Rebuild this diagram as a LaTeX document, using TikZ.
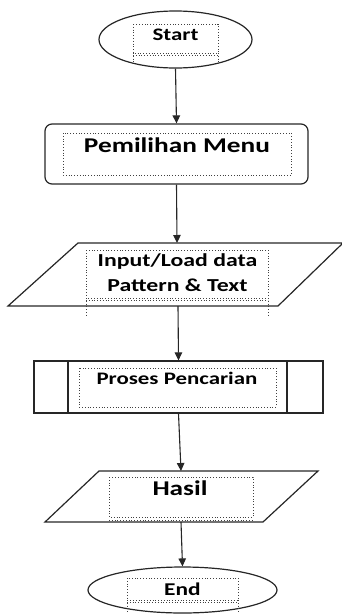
\documentclass[tikz,border=0pt]{standalone}
\usepackage{fontspec}
\setmainfont{Carlito}
\usetikzlibrary{shapes.geometric,arrows.meta}
\begin{document}
\begin{tikzpicture}[x=1pt,y=-1pt,
  shape line/.style={draw=black!85, line width=1.2pt},
  dotbox/.style={draw=black!75, dotted, line width=0.8pt},
  flow/.style={draw=black!85, line width=1.1pt, -{Triangle[length=8pt,width=7.5pt]}},
  lbl/.style={anchor=base, inner sep=0pt, text=black}]
\useasboundingbox (0,0) rectangle (341,614);
\newcommand{\Lbl}[2]{\scalebox{1.3}[1]{\fontsize{#1}{#1}\selectfont\bfseries #2}}

% Start
\node[shape line, ellipse, minimum width=153pt, minimum height=57pt, inner sep=0pt] (start) at (175.5,39.5) {};
\draw[dotbox] (133,24) rectangle (218,53);
\draw[dotbox] (133,55) -- (218,55) (133,53) -- (133,63) (218,53) -- (218,63);
\node[lbl] (startt) at (175.5,40.7) {\Lbl{17.6}{Start}};

% Menu
\node[shape line, rectangle, rounded corners=7pt, minimum width=263pt, minimum height=60pt, inner sep=0pt] (menu) at (176.5,154) {};
\draw[dotbox] (63,133) rectangle (291,175);
\node[lbl] (menut) at (177,152.3) {\Lbl{21}{Pemilihan Menu}};

% Input parallelogram
\coordinate (inTL) at (78,243);
\coordinate (inTR) at (343,243);
\coordinate (inBR) at (278,306);
\coordinate (inBL) at (8,306);
\draw[shape line] (inTL) -- (inTR) -- (inBR) -- (inBL) -- cycle;
\coordinate (inTop) at (177,243);
\coordinate (inBot) at (178,306);
\draw[dotbox] (86,250) rectangle (268,298);
\draw[dotbox] (86,300) -- (268,300) (86,298) -- (86,315) (268,298) -- (268,315);
\node[lbl] (int1) at (177.5,266.7) {\Lbl{18.3}{Input/Load data}};
\node[lbl] (int2) at (177.5,291.7) {\Lbl{18.3}{Pattern \& Text}};

% Proses predefined process
\node[shape line, rectangle, minimum width=289pt, minimum height=52pt, inner sep=0pt] (proc) at (178.5,387) {};
\draw[shape line] (68,361) -- (68,413) (287,361) -- (287,413);
\draw[dotbox] (79,368) rectangle (276,407);
\node[lbl] (proct) at (177,384) {\Lbl{17.6}{Proses Pencarian}};

% Hasil parallelogram
\coordinate (hTL) at (99,471);
\coordinate (hTR) at (318,471);
\coordinate (hBR) at (263,522);
\coordinate (hBL) at (45,522);
\draw[shape line] (hTL) -- (hTR) -- (hBR) -- (hBL) -- cycle;
\coordinate (hTop) at (181,471);
\coordinate (hBot) at (181,522);
\draw[dotbox] (109,477) rectangle (253,517);
\draw[dotbox] (109,520) -- (253,520);
\node[lbl] (hasilt) at (180,495.7) {\Lbl{21}{Hasil}};

% End
\node[shape line, ellipse, minimum width=189pt, minimum height=46pt, inner sep=0pt] (end) at (182.5,590) {};
\draw[dotbox] (127,578) rectangle (238,600);
\draw[dotbox] (127,602) -- (238,602) (127,600) -- (127,614) (238,600) -- (238,614);
\node[lbl] (endt) at (182.5,595) {\Lbl{18}{End}};

% connectors
\draw[flow] (start.south) -- (menu.north);
\draw[flow] (menu.south) -- (inTop);
\draw[flow] (inBot) -- (proc.north);
\draw[flow] (proc.south) -- (hTop);
\draw[flow] (hBot) -- (end.north);
\end{tikzpicture}
\end{document}
